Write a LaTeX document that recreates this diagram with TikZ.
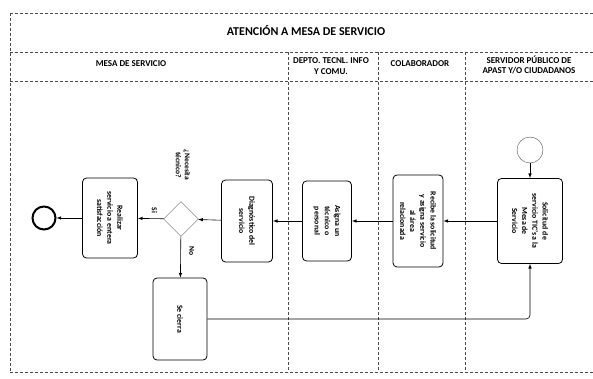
\documentclass[tikz,border=0pt]{standalone}
\usepackage{fontspec}
\setmainfont{Carlito}
\usetikzlibrary{positioning, arrows, shapes, calc}
\usetikzlibrary{shapes.geometric,arrows}
\tikzstyle{arrow} = [semithick,->,>=latex]
\tikzstyle{task} = [rectangle, rounded corners=4pt, draw=black, thick, rotate=-90, align=center, inner sep=2pt, font=\bfseries\fontsize{7.8}{10.2}\selectfont]
\tikzstyle{gateway} = [diamond, draw=black!60, thin, minimum size=35pt, inner sep=0pt]
\tikzstyle{lbl} = [rotate=-90, align=center, font=\bfseries\fontsize{7.5}{9}\selectfont]
\tikzstyle{lane} = [densely dashed, black!70, thin]
\tikzstyle{header} = [align=center, font=\bfseries\fontsize{9}{10.5}\selectfont]

\begin{document}
\begin{tikzpicture}[x=1pt, y=-1pt]
        \fill[white] (0,0) rectangle (593,379);
        \useasboundingbox (0,0) rectangle (593,379);

        % pool and lanes
        \draw [lane] (10,13) -- (593,13);
        \draw [lane] (10,52) -- (593,52);
        \draw [lane] (10,81) -- (593,81);
        \draw [lane] (10,372) -- (593,372);
        \draw [lane] (10,13) -- (10,372);
        \draw [lane] (288,52) -- (288,372);
        \draw [lane] (378,52) -- (378,372);
        \draw [lane] (465,52) -- (465,372);

        \node (titulo) [header, font=\bfseries\fontsize{12}{13}\selectfont] at (306,31) {ATENCIÓN A MESA DE SERVICIO};
        \node (mesa) [header] at (131,64) {MESA DE SERVICIO};
        \node (depto) [header] at (331,66) {DEPTO. TECNL. INFO\\Y COMU.};
        \node (colab) [header] at (420,64) {COLABORADOR};
        \node (servidor) [header] at (529,65) {SERVIDOR PÚBLICO DE\\APAST Y/O CIUDADANOS};

        % process, right to left
        \node (inicio) [circle, draw=black!70, thin, minimum size=26pt] at (530,150) {};
        \node (solicitud) [task, minimum width=85pt, minimum height=65pt] at (530,221) {Solicitud de\\servicio TIC's a la\\Mesa de\\Servicio};
        \node (recibe) [task, minimum width=92pt, minimum height=50pt] at (418,221) {Recibe la solicitud\\y asigna servicio\\al área\\relacionada};
        \node (asigna) [task, minimum width=80pt, minimum height=49pt] at (327,221) {Asigna un\\técnico o\\personal};
        \node (diagnostico) [task, minimum width=82pt, minimum height=51pt] at (247,221) {Diagnóstico del\\servicio};
        \node (gateway) [gateway] at (181,219) {};
        \node (pregunta) [lbl] at (183,165) {¿Necesita\\técnico?};
        \node (realizar) [task, minimum width=80pt, minimum height=55pt] at (110,218) {Realizar\\servicio a entera\\satisfacción};
        \node (fin) [circle, draw=black, line width=2pt, minimum size=23pt] at (44,218) {};
        \node (secierra) [task, minimum width=82pt, minimum height=54pt] at (180,319) {Se cierra};

        \draw [arrow] (inicio) -- (solicitud);
        \draw [arrow] (solicitud) -- (recibe);
        \draw [arrow] (recibe) -- (asigna);
        \draw [arrow] (asigna) -- (diagnostico);
        \draw [arrow] (diagnostico) -- (gateway);
        \draw [arrow] (gateway) -- node[yshift=8pt, lbl, pos=0.35]{Si} (realizar);
        \draw [arrow] (gateway) -- node[xshift=11pt, lbl, pos=0.35]{No} (secierra);
        \draw [arrow] (realizar) -- (fin);
        \draw [arrow, rounded corners=4pt] (secierra) -- (secierra -| solicitud) -- (solicitud);

        \end{tikzpicture}
\end{document}
